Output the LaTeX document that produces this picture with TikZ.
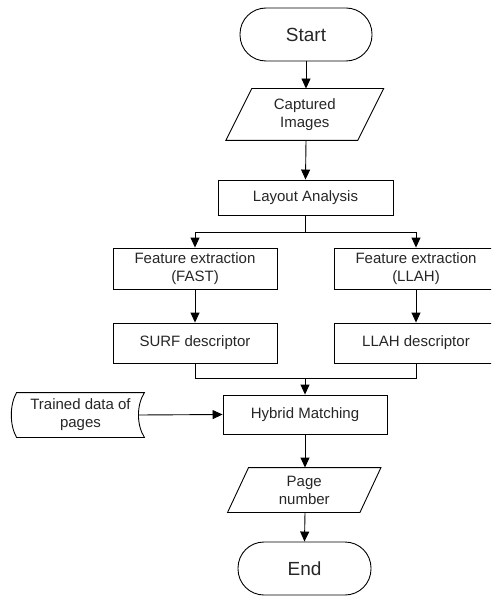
\documentclass[tikz,border=0pt]{standalone}
\usepackage{fontspec}
\setmainfont{Liberation Sans}
\usetikzlibrary{arrows.meta}
\begin{document}
\begin{tikzpicture}[x=1pt,y=-1pt, line width=0.9pt,
  txt/.style={font=\fontsize{15}{18}\selectfont, text=black!85, align=center, inner sep=0pt},
  box/.style={txt, draw, rectangle},
  ghost/.style={txt, rectangle},
  term/.style={draw, rectangle, rounded corners=26pt, inner sep=0pt, font=\fontsize{19}{22}\selectfont, text=black!85},
  arr/.style={-{Triangle[length=10pt,width=9pt]}}]
\useasboundingbox (0,0) rectangle (491,596);
\clip (0,0) rectangle (491,596);
% nodes
\node[term, minimum width=132pt, minimum height=53pt] (start) at (306,34.5) {Start};
\node[ghost, minimum width=131pt, minimum height=51pt] (cap) at (304.75,114.5) {Captured\\Images};
\draw ([xshift=13pt]cap.north west) -- ([xshift=13pt]cap.north east) -- ([xshift=-13pt]cap.south east) -- ([xshift=-13pt]cap.south west) -- cycle;
\node[box, minimum width=175pt, minimum height=35pt] (layout) at (305.5,197.5) {Layout Analysis};
\node[box, minimum width=164pt, minimum height=41pt] (fast) at (195,268.5) {Feature extraction\\(FAST)};
\node[box, minimum width=164pt, minimum height=41pt] (llahf) at (416,268.5) {Feature extraction\\(LLAH)};
\node[box, minimum width=164pt, minimum height=40pt] (surf) at (195,343) {SURF descriptor};
\node[box, minimum width=164pt, minimum height=40pt] (llahd) at (416,343) {LLAH descriptor};
\node[box, minimum width=164pt, minimum height=39pt] (hyb) at (305,414.5) {Hybrid Matching};
\node[ghost, minimum width=127pt, minimum height=44pt] (trained) at (80.5,415) {Trained data of\\pages};
\draw (trained.north west) -- (trained.north east)
  .. controls ([xshift=-8pt]trained.north east |- 0,405) and ([xshift=-8pt]trained.south east |- 0,425) .. (trained.south east)
  -- (trained.south west)
  .. controls ([xshift=-7pt]trained.south west |- 0,425) and ([xshift=-7pt]trained.north west |- 0,405) .. (trained.north west) -- cycle;
\node[ghost, minimum width=131.5pt, minimum height=44pt] (page) at (304.25,490) {Page\\number};
\draw ([xshift=10.5pt]page.north west) -- ([xshift=10.5pt]page.north east) -- ([xshift=-10.5pt]page.south east) -- ([xshift=-10.5pt]page.south west) -- cycle;
\node[term, minimum width=133pt, minimum height=53pt] (end) at (304.5,568.5) {End};
% connectors
\draw[arr] (start.south) -- (start.south |- cap.north);
\draw[arr] (start.south |- cap.south) -- (layout.north);
\draw (layout.south) -- ++(0,17) coordinate (sp);
\draw[arr] (sp) -| (fast.north);
\draw[arr] (sp) -| (llahf.north);
\draw[arr] (fast.south) -- (surf.north);
\draw[arr] (llahf.south) -- (llahd.north);
\coordinate (mg) at (hyb.north |- 0,378);
\draw (surf.south) |- (mg);
\draw (llahd.south) |- (mg);
\draw[arr] (mg) -- (hyb.north);
\draw[arr] ([xshift=-6pt]trained.east) -- (hyb.west);
\draw[arr] (hyb.south) -- (hyb.south |- page.north);
\draw[arr] (hyb.south |- page.south) -- (end.north);
\end{tikzpicture}
\end{document}
